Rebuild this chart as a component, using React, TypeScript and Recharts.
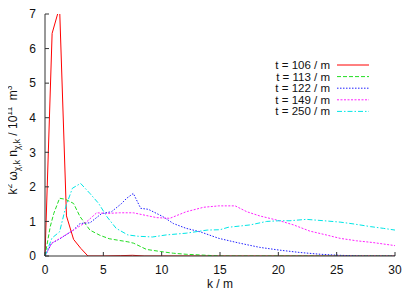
import { LineChart, Line, XAxis, YAxis, Legend } from 'recharts';

// k / m values and spectra, one pair per time slice
const kRed = [0, 0.61, 1.25, 1.84, 2.45, 3.07, 3.68, 5, 6.5, 7.5, 8.5, 30];
const vRed = [0, 6.44, 7.2, 1.16, 0.48, 0.22, 0, 0, 0.01, 0.02, 0, 0];

const kGreen = [0, 0.45, 0.75, 1.25, 1.75, 2.45, 3.0, 3.85, 4.7, 5.5, 6.2, 7.1, 7.6, 8.7, 9.9, 11, 12.1, 13.9, 15, 30];
const vGreen = [0, 0.85, 1.23, 1.67, 1.64, 1.52, 1.14, 0.75, 0.6, 0.5, 0.46, 0.41, 0.37, 0.19, 0.13, 0.08, 0.05, 0.02, 0, 0];

const kBlue = [0, 0.57, 1.29, 2.43, 3.0, 3.86, 4.86, 5.7, 6.57, 7.0, 7.57, 8.2, 8.86, 9.57, 10.1, 11.0, 12.1, 13.3, 14.9, 16.7, 18.4, 20.1, 21.9, 23.6, 25.3, 27, 30];
const vBlue = [0, 0.37, 0.5, 0.75, 0.94, 0.96, 1.23, 1.28, 1.52, 1.67, 1.81, 1.38, 1.35, 1.23, 1.14, 0.94, 0.8, 0.7, 0.51, 0.37, 0.25, 0.17, 0.1, 0.05, 0.02, 0, 0];

const kMagenta = [0, 0.57, 1.29, 2.43, 3.57, 4.43, 5.29, 6.4, 7.57, 8.7, 9.57, 10.7, 12.1, 13.6, 14.9, 16.3, 17.3, 18.4, 20.1, 21.3, 22.7, 24.1, 25.3, 26.7, 28.1, 30];
const vMagenta = [0, 0.37, 0.51, 0.75, 0.99, 1.25, 1.23, 1.25, 1.25, 1.17, 1.11, 1.09, 1.28, 1.41, 1.45, 1.45, 1.28, 1.16, 1.02, 0.9, 0.72, 0.61, 0.51, 0.44, 0.39, 0.3];

const kCyan = [0, 0.6, 1.25, 1.8, 2.35, 3.05, 3.85, 4.6, 5.3, 6.1, 7.1, 8.0, 8.7, 9.2, 10.4, 12.1, 13.9, 15.0, 15.7, 17.6, 19.0, 20.1, 21.0, 22.4, 23.9, 25.3, 26.4, 27.9, 29.0, 30];
const vCyan = [0, 0.52, 0.7, 1.45, 1.96, 2.1, 1.81, 1.52, 1.14, 0.8, 0.61, 0.57, 0.56, 0.55, 0.61, 0.66, 0.75, 0.76, 0.83, 0.9, 1.0, 1.02, 1.02, 1.06, 1.02, 0.98, 0.93, 0.85, 0.8, 0.75];

const xTicks = [0, 5, 10, 15, 20, 25, 30];
const yTicks = [0, 1, 2, 3, 4, 5, 6, 7];

const FONT = '"Liberation Sans", Arial, Helvetica, sans-serif';

const zip = (ks: number[], vs: number[]) => ks.map((k, i) => ({ k, v: vs[i] }));

const series = [
  { name: 't = 106 / m', data: zip(kRed, vRed), color: '#ff0000', dash: undefined },
  { name: 't = 113 / m', data: zip(kGreen, vGreen), color: '#22dd22', dash: '4 2' },
  { name: 't = 122 / m', data: zip(kBlue, vBlue), color: '#2020ff', dash: '1.5 1.5' },
  { name: 't = 149 / m', data: zip(kMagenta, vMagenta), color: '#ff22ff', dash: '2 1.5' },
  { name: 't = 250 / m', data: zip(kCyan, vCyan), color: '#00e6e6', dash: '5 2 1.5 2' },
];

function LegendBox() {
  return (
    <svg width={160} height={64} style={{ display: 'block' }}>
      {series.map((s, i) => {
        const y = 6 + i * 11.6;
        return (
          <g key={s.name}>
            <text x={110} y={y + 4} textAnchor="end" fontSize={11.5} fontFamily={FONT} fill="#111">
              {s.name}
            </text>
            <line x1={117} x2={149} y1={y} y2={y} stroke={s.color} strokeWidth={1} strokeDasharray={s.dash} />
          </g>
        );
      })}
    </svg>
  );
}

function YLabel(props: any) {
  const vb = props.viewBox || {};
  const x = vb.x + 2;
  const y = vb.y + vb.height / 2 + 5;
  const sm = 8.5;
  return (
    <text x={x} y={y} transform={`rotate(-90, ${x}, ${y})`} textAnchor="middle" fontSize={12} fontFamily={FONT} fill="#111">
      k
      <tspan dy={-5} fontSize={sm}>2</tspan>
      <tspan dy={5}>{'\u00a0ω'}</tspan>
      <tspan dy={3} fontSize={sm}>χ,k</tspan>
      <tspan dy={-3}>{'\u00a0n'}</tspan>
      <tspan dy={3} fontSize={sm}>χ,k</tspan>
      <tspan dy={-3}>{'\u00a0/ 10'}</tspan>
      <tspan dy={-5} fontSize={sm}>11</tspan>
      <tspan dy={5}>{'\u00a0\u00a0m'}</tspan>
      <tspan dy={-5} fontSize={sm}>3</tspan>
    </text>
  );
}

export default function App() {
  const tickStyle = { fill: '#111', fontSize: 12, fontFamily: FONT };
  const axisStroke = '#333';
  return (
    <div style={{ marginLeft: -8, marginTop: -8 }}>
      <LineChart width={415} height={291} margin={{ top: 14, right: 20, bottom: 3, left: 15 }}>
        <XAxis
          xAxisId="b"
          type="number"
          dataKey="k"
          domain={[0, 30]}
          ticks={xTicks}
          height={32}
          tickSize={-4}
          tickMargin={13}
          tick={tickStyle}
          stroke={axisStroke}
          allowDuplicatedCategory={false}
          label={{ value: 'k / m', position: 'insideBottom', offset: 0, fill: '#111', fontSize: 12, fontFamily: FONT }}
        />
        <XAxis
          xAxisId="t"
          orientation="top"
          type="number"
          dataKey="k"
          domain={[0, 30]}
          ticks={xTicks}
          height={0}
          tickSize={-4}
          tick={false}
          stroke={axisStroke}
        />
        <YAxis
          yAxisId="l"
          type="number"
          domain={[0, 7]}
          ticks={yTicks}
          allowDataOverflow
          width={30}
          tickSize={-4}
          tickMargin={13}
          tick={tickStyle}
          stroke={axisStroke}
          label={{ content: <YLabel /> }}
        />
        <YAxis
          yAxisId="r"
          orientation="right"
          type="number"
          domain={[0, 7]}
          ticks={yTicks}
          width={0}
          tickSize={-4}
          tick={false}
          stroke={axisStroke}
        />
        <Legend
          layout="horizontal"
          verticalAlign="middle"
          align="center"
          content={() => <LegendBox />}
          wrapperStyle={{ top: 59, left: 220, width: 160, height: 64 }}
        />
        {series.map((s) => (
          <Line
            key={s.name}
            xAxisId="b"
            yAxisId="l"
            data={s.data}
            dataKey="v"
            name={s.name}
            type="linear"
            stroke={s.color}
            strokeWidth={1}
            strokeDasharray={s.dash}
            dot={false}
            activeDot={false}
            isAnimationActive={false}
          />
        ))}
      </LineChart>
    </div>
  );
}
